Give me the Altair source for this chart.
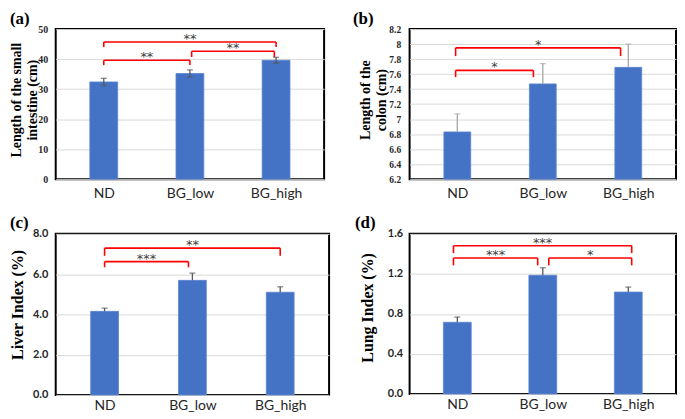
import json
import altair as alt
import pandas as pd

CATS = ["ND", "BG_low", "BG_high"]

# (a) small intestine length
A_VALS = [32.4, 35.2, 39.6]
A_ERR = [1.2, 1.2, 1.0]
A_BRACKETS = [  # from, to, bracket top, leg bottom, label, offset_from, offset_to
    (0, 1, 39.6, 38.0, "**", 0.0, 0.0),
    (0, 2, 45.7, 44.0, "**", 0.0, 0.0),
    (1, 2, 42.6, 40.7, "**", 0.02, -0.02),
]
# (b) colon length
B_VALS = [6.83, 7.47, 7.69]
B_ERR = [0.24, 0.27, 0.31]
B_BRACKETS = [
    (0, 1, 7.65, 7.56, "*", -0.02, -0.11),
    (0, 2, 7.95, 7.84, "*", -0.02, -0.09),
]
# (c) liver index
C_VALS = [4.15, 5.69, 5.10]
C_ERR = [0.16, 0.36, 0.27]
C_BRACKETS = [
    (0, 1, 6.62, 6.34, "***", 0.0, -0.045),
    (0, 2, 7.29, 6.91, "**", 0.0, 0.0),
]
# (d) lung index
D_VALS = [0.716, 1.186, 1.018]
D_ERR = [0.052, 0.075, 0.050]
D_BRACKETS = [
    (0, 1, 1.358, 1.285, "***", -0.045, -0.06),
    (0, 2, 1.481, 1.408, "***", -0.045, 0.04),
    (1, 2, 1.358, 1.285, "*", 0.07, 0.04),
]

SERIF = "Liberation Serif"
SANS = "Lato"
BLUE = "#4472C4"


def panel(vals, errs, brackets, ydom, yticks, yfmt, title_lines, title_size,
          tick_font, tick_size, tick_pad, title_x, title_y, width, height,
          label, label_dx, err_color, both_err, bar_w, xlab_pad):
    lo = [v - e if both_err else v for v, e in zip(vals, errs)]
    hi = [v + e for v, e in zip(vals, errs)]
    bars = pd.DataFrame({"i": [0, 1, 2], "v": vals, "lo": lo, "hi": hi})
    caps = pd.DataFrame({"i": [0, 1, 2] * (2 if both_err else 1),
                         "c": hi + (lo if both_err else [])})
    segs = []
    stars = []
    for f, t, top, leg, txt, of, ot in brackets:
        xf, xt = f + of, t + ot
        segs.append({"x": xf, "x2": xt, "y": top, "y2": top})
        segs.append({"x": xf, "x2": xf, "y": leg, "y2": top})
        segs.append({"x": xt, "x2": xt, "y": leg, "y2": top})
        stars.append({"x": (xf + xt) / 2, "y": top, "t": txt})
    segs = pd.DataFrame(segs)
    stars = pd.DataFrame(stars)

    xs = alt.Scale(domain=[-0.5, 2.5], nice=False, zero=False)
    ys = alt.Scale(domain=ydom, nice=False, zero=False)
    xaxis = alt.Axis(values=[0, 1, 2],
                     labelExpr=json.dumps(CATS) + "[datum.value]",
                     title=None, grid=False, ticks=False, domain=False,
                     labelFont=SANS, labelFontSize=14, labelColor="#262626",
                     labelPadding=xlab_pad)
    yaxis = alt.Axis(values=yticks, format=yfmt, grid=True, gridColor="#d9d9d9",
                     gridWidth=1, ticks=False, domain=False,
                     labelFont=tick_font, labelFontSize=tick_size,
                     labelFontWeight="bold", labelColor="#262626",
                     labelPadding=tick_pad,
                     title=title_lines, titleFont=SERIF, titleFontSize=title_size,
                     titleFontWeight="bold", titleColor="#000000",
                     titleLineHeight=title_size + 2,
                     titleX=title_x, titleY=title_y, titleAngle=270,
                     titleAlign="center", titleBaseline="bottom")

    def X(f):
        return alt.X(f, scale=xs, axis=xaxis)

    def Y(f):
        return alt.Y(f, scale=ys, axis=yaxis)

    bar = alt.Chart(bars).mark_bar(size=bar_w, color=BLUE, stroke="#5b86d2",
                                   strokeWidth=0.8).encode(
        x=X("i:Q"), y=Y("v:Q"), y2=alt.datum(ydom[0]),
    )
    err = alt.Chart(bars).mark_rule(color=err_color, strokeWidth=1.3).encode(
        x=X("i:Q"), y=Y("lo:Q"), y2="hi:Q",
    )
    cap = alt.Chart(caps).mark_tick(orient="horizontal", size=6, thickness=1.3,
                                    color=err_color).encode(
        x=X("i:Q"), y=Y("c:Q"),
    )
    br = alt.Chart(segs).mark_rule(color="#ff0000", strokeWidth=1.6).encode(
        x=X("x:Q"), x2="x2:Q", y=Y("y:Q"), y2="y2:Q",
    )
    st = alt.Chart(stars).mark_text(font="DejaVu Sans", fontSize=13,
                                    color="#404040", baseline="alphabetic",
                                    dy=1).encode(
        x=X("x:Q"), y=Y("y:Q"), text="t:N",
    )
    return alt.layer(bar, err, cap, br, st).properties(
        width=width, height=height,
        title=alt.TitleParams(label, anchor="start", frame="group", dx=label_dx,
                              offset=-4, font=SERIF, fontSize=17,
                              fontWeight="bold", color="#000000"),
    )


pa = panel(A_VALS, A_ERR, A_BRACKETS, [0, 50], [0, 10, 20, 30, 40, 50], "d",
           ["Length of the small", "intestine (cm)"], 14, SERIF, 10, 8,
           -32, 71, 270, 151, "(a)", -46, "#595959", True, 28, 7)
pb = panel(B_VALS, B_ERR, B_BRACKETS, [6.2, 8.2],
           [6.2, 6.4, 6.6, 6.8, 7.0, 7.2, 7.4, 7.6, 7.8, 8.0, 8.2], ".1~f",
           ["Length of the", "colon (cm)"], 14, SERIF, 9.5, 9,
           -37, 71, 268, 151, "(b)", -57, "#a6a6a6", False, 27, 7)
pc = panel(C_VALS, C_ERR, C_BRACKETS, [0, 8], [0, 2, 4, 6, 8], ".1f",
           "Liver Index (%)", 16, SANS, 11, 8,
           -30, 71, 275, 162, "(c)", -46, "#595959", False, 28, 4)
pd_ = panel(D_VALS, D_ERR, D_BRACKETS, [0, 1.6], [0, 0.4, 0.8, 1.2, 1.6], ".1f",
            "Lung Index (%)", 16, SANS, 11, 7,
            -34, 74, 268, 161, "(d)", -55, "#595959", False, 28, 4)

chart = alt.concat(pa, pb, pc, pd_, columns=2, spacing=alt.RowColnumber(row=55, column=81),
                   bounds="flush").configure_view(
    stroke="#000000", strokeWidth=2
).properties(padding=0, background="white")

chart.save("out.html", embed_options={"renderer": "svg", "actions": False})
